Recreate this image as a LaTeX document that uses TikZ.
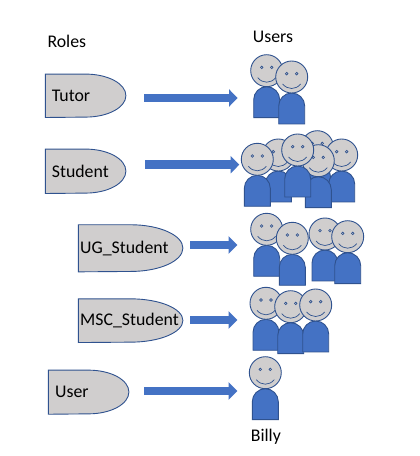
\documentclass[tikz,border=0pt]{standalone}
\usepackage{fontspec}
\setmainfont{Carlito}
\usetikzlibrary{arrows.meta,backgrounds}
\definecolor{rolegrey}{HTML}{D0CECE}
\definecolor{userblue}{HTML}{4472C4}
\definecolor{lineblue}{HTML}{2F528F}

\newcommand{\rolenode}[7]{%
  \node[rolelabel, minimum width=#4, minimum height=#5, text width=#4pt-2*#6pt, inner xsep=#6pt] (#1) at (#2,#3) {#7};
  \begin{pgfonlayer}{background}
    \draw[roleshape] (#1.south west) -- (#1.north west) -- (#1.north)
      arc[start angle=90, end angle=-90, x radius=#4/2, y radius=#5/2] -- cycle;
  \end{pgfonlayer}}
\newcommand{\person}[2]{%
  \begin{scope}[shift={(#1,#2)}]
    \draw[userbody] (-13,-47) -- (-13,-29) arc[start angle=180, end angle=0, radius=13] -- (13,-47) -- cycle;
    \draw[userhead] (0,0) circle[radius=16];
    \draw[userface] (-5,3.3) circle[radius=1.3];
    \draw[userface] (5,3.3) circle[radius=1.3];
    \draw[userface] (-9,-7) .. controls (-4,-13) and (4,-13) .. (9,-7);
  \end{scope}}
\newcommand{\rolearrow}[3]{%
  \coordinate (#1tip) at (#2,#3);
  \draw[blockarrow] (#1.east |- #1tip) -- (#1tip);}

\begin{document}
\begin{tikzpicture}[x=1pt, y=1pt,
  every node/.style={font=\fontsize{17.8}{20}\selectfont},
  rolelabel/.style={anchor=west, inner ysep=0pt, align=left},
  roleshape/.style={draw=lineblue, fill=rolegrey, line width=0.9pt},
  heading/.style={anchor=west, inner sep=0pt},
  userbody/.style={draw=lineblue, fill=userblue, line width=0.9pt},
  userhead/.style={draw=lineblue, fill=rolegrey, line width=0.9pt},
  userface/.style={draw=lineblue, line width=0.7pt},
  blockarrow/.style={draw=userblue, line width=8.6pt, -{Triangle[width=17pt,length=8.7pt]}}]
  \useasboundingbox (0,0) rectangle (420,456);

  \node[heading] (roles) at (47.3,415) {Roles};
  \node[heading] (users) at (252.7,419) {Users};
  \node[heading] (billy) at (250.7,19) {Billy};

  % roles
  \rolenode{tutor}{45.3}{360.2}{80.4}{43}{6.4}{\raisebox{-3.7pt}{Tutor}}
  \rolenode{student}{45.3}{284.7}{80.4}{44}{6.4}{Student}
  \rolenode{ugstudent}{78.3}{207.7}{104.4}{46.7}{1.7}{UG\_Student}
  \rolenode{mscstudent}{78.3}{135.3}{104.4}{43.3}{1.7}{MSC\_Student}
  \rolenode{user}{48.3}{63.8}{80.4}{43.7}{6.7}{User}

  % arrows
  \begin{scope}[shorten <=18.3pt]
    \rolearrow{tutor}{237.7}{358}
  \end{scope}
  \begin{scope}[shorten <=19.3pt]
    \rolearrow{student}{239.3}{291.3}
  \end{scope}
  \begin{scope}[shorten <=7.3pt]
    \rolearrow{ugstudent}{237.3}{211}
    \rolearrow{mscstudent}{237.3}{136}
  \end{scope}
  \begin{scope}[shorten <=15.3pt]
    \rolearrow{user}{237.3}{65}
  \end{scope}

  % users
  \foreach \px/\py in {266.7/385.3, 291.7/379}
    {\person{\px}{\py}}
  \foreach \px/\py in {317.3/309.3, 278.3/301, 341.7/301, 318.3/295.3, 297.7/306, 257.3/296.7}
    {\person{\px}{\py}}
  \foreach \px/\py in {266.7/226.7, 292.3/217.7, 325/222, 347.7/219.3}
    {\person{\px}{\py}}
  \foreach \px/\py in {266/152.7, 290.7/149.3, 315.7/151}
    {\person{\px}{\py}}
  \person{265.3}{83.3}
\end{tikzpicture}
\end{document}
